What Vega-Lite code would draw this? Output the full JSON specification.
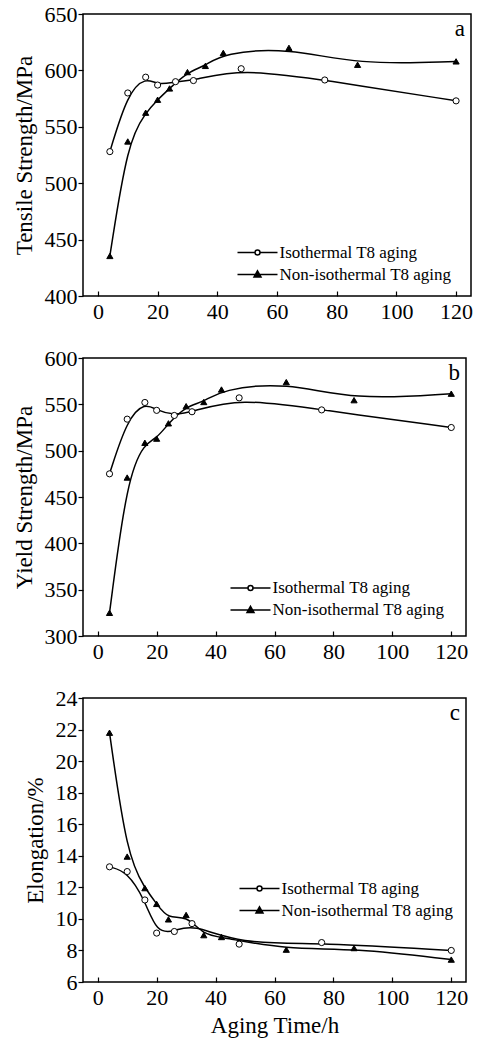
{
  "$schema": "https://vega.github.io/schema/vega-lite/v6.json",
  "padding": {"left": 12, "top": 2, "right": 0, "bottom": 0},
  "spacing": 23,
  "resolve": {"scale": {"shape": "independent", "fill": "independent"}, "legend": {"shape": "independent", "fill": "independent"}},
  "config": {
    "font": "Liberation Serif",
    "view": {"stroke": "black", "strokeWidth": 1.5},
    "axis": {"grid": false, "domain": false, "labelFont": "Liberation Serif", "titleFont": "Liberation Serif", "labelFontSize": 22, "titleFontSize": 23, "titleFontWeight": "normal", "labelColor": "black", "titleColor": "black", "tickColor": "black", "tickWidth": 1.2},
    "axisY": {"tickSize": 5, "labelPadding": 1, "titlePadding": 8},
    "axisX": {"tickSize": -5, "labelPadding": 10, "titlePadding": 6},
    "legend": {"labelFont": "Liberation Serif", "labelFontSize": 17, "labelColor": "black", "labelLimit": 400, "symbolSize": 100, "labelOffset": 13.5, "rowPadding": 4, "padding": 0, "symbolStrokeColor": "black", "symbolStrokeWidth": 1.5, "symbolOpacity": 1},
    "point": {"size": 38},
    "title": {"font": "Liberation Serif", "fontSize": 23, "fontWeight": "normal", "color": "black", "anchor": "end", "frame": "group", "orient": "top", "offset": -38, "baseline": "alphabetic", "dx": -6}
  },
  "datasets": {
    "a": [
      {"s": "Isothermal T8 aging", "t": 4, "v": 528},
      {"s": "Isothermal T8 aging", "t": 10, "v": 580},
      {"s": "Isothermal T8 aging", "t": 16, "v": 594},
      {"s": "Isothermal T8 aging", "t": 20, "v": 587},
      {"s": "Isothermal T8 aging", "t": 26, "v": 590},
      {"s": "Isothermal T8 aging", "t": 32, "v": 591},
      {"s": "Isothermal T8 aging", "t": 48, "v": 601.5},
      {"s": "Isothermal T8 aging", "t": 76, "v": 591.5},
      {"s": "Isothermal T8 aging", "t": 120, "v": 573},
      {"s": "Non-isothermal T8 aging", "t": 4, "v": 435.5},
      {"s": "Non-isothermal T8 aging", "t": 10, "v": 537},
      {"s": "Non-isothermal T8 aging", "t": 16, "v": 562.5},
      {"s": "Non-isothermal T8 aging", "t": 20, "v": 574},
      {"s": "Non-isothermal T8 aging", "t": 24, "v": 584},
      {"s": "Non-isothermal T8 aging", "t": 30, "v": 598.5},
      {"s": "Non-isothermal T8 aging", "t": 36, "v": 604},
      {"s": "Non-isothermal T8 aging", "t": 42, "v": 615.5},
      {"s": "Non-isothermal T8 aging", "t": 64, "v": 620},
      {"s": "Non-isothermal T8 aging", "t": 87, "v": 605},
      {"s": "Non-isothermal T8 aging", "t": 120, "v": 608}
    ],
    "b": [
      {"s": "Isothermal T8 aging", "t": 4, "v": 475},
      {"s": "Isothermal T8 aging", "t": 10, "v": 534},
      {"s": "Isothermal T8 aging", "t": 16, "v": 552},
      {"s": "Isothermal T8 aging", "t": 20, "v": 543.5},
      {"s": "Isothermal T8 aging", "t": 26, "v": 538},
      {"s": "Isothermal T8 aging", "t": 32, "v": 542},
      {"s": "Isothermal T8 aging", "t": 48, "v": 557},
      {"s": "Isothermal T8 aging", "t": 76, "v": 544},
      {"s": "Isothermal T8 aging", "t": 120, "v": 525},
      {"s": "Non-isothermal  T8 aging", "t": 4, "v": 325},
      {"s": "Non-isothermal  T8 aging", "t": 10, "v": 471},
      {"s": "Non-isothermal  T8 aging", "t": 16, "v": 508.5},
      {"s": "Non-isothermal  T8 aging", "t": 20, "v": 513},
      {"s": "Non-isothermal  T8 aging", "t": 24, "v": 529.5},
      {"s": "Non-isothermal  T8 aging", "t": 30, "v": 548},
      {"s": "Non-isothermal  T8 aging", "t": 36, "v": 552.5},
      {"s": "Non-isothermal  T8 aging", "t": 42, "v": 566},
      {"s": "Non-isothermal  T8 aging", "t": 64, "v": 574},
      {"s": "Non-isothermal  T8 aging", "t": 87, "v": 554.5},
      {"s": "Non-isothermal  T8 aging", "t": 120, "v": 561.5}
    ],
    "c": [
      {"s": "Isothermal T8 aging", "t": 4, "v": 13.3},
      {"s": "Isothermal T8 aging", "t": 10, "v": 13.0},
      {"s": "Isothermal T8 aging", "t": 16, "v": 11.2},
      {"s": "Isothermal T8 aging", "t": 20, "v": 9.1},
      {"s": "Isothermal T8 aging", "t": 26, "v": 9.2},
      {"s": "Isothermal T8 aging", "t": 32, "v": 9.7},
      {"s": "Isothermal T8 aging", "t": 48, "v": 8.4},
      {"s": "Isothermal T8 aging", "t": 76, "v": 8.5},
      {"s": "Isothermal T8 aging", "t": 120, "v": 8.0},
      {"s": "Non-isothermal T8 aging", "t": 4, "v": 21.8},
      {"s": "Non-isothermal T8 aging", "t": 10, "v": 13.95},
      {"s": "Non-isothermal T8 aging", "t": 16, "v": 11.95},
      {"s": "Non-isothermal T8 aging", "t": 20, "v": 10.95},
      {"s": "Non-isothermal T8 aging", "t": 24, "v": 9.97},
      {"s": "Non-isothermal T8 aging", "t": 30, "v": 10.25},
      {"s": "Non-isothermal T8 aging", "t": 36, "v": 8.97},
      {"s": "Non-isothermal T8 aging", "t": 42, "v": 8.85},
      {"s": "Non-isothermal T8 aging", "t": 64, "v": 8.05},
      {"s": "Non-isothermal T8 aging", "t": 87, "v": 8.15},
      {"s": "Non-isothermal T8 aging", "t": 120, "v": 7.42}
    ]
  },
  "vconcat": [
    {
      "width": 388, "height": 282,
      "data": {"name": "a"},
      "title": {"text": "a"},
      "resolve": {"scale": {"shape": "independent"}, "legend": {"shape": "independent"}},
      "encoding": {
        "x": {"field": "t", "type": "quantitative", "scale": {"domain": [-5, 125]}, "axis": {"values": [0, 20, 40, 60, 80, 100, 120], "title": null}},
        "y": {"field": "v", "type": "quantitative", "scale": {"domain": [400, 650]}, "axis": {"values": [400, 450, 500, 550, 600, 650], "title": "Tensile Strength/MPa"}}
      },
      "layer": [
        {"mark": {"type": "line", "interpolate": "basis", "color": "black", "strokeWidth": 1.5}, "encoding": {"detail": {"field": "s"}}},
        {"mark": {"type": "point", "filled": true, "stroke": "black", "strokeWidth": 1, "opacity": 1},
         "encoding": {
           "shape": {"field": "s", "type": "nominal", "scale": {"domain": ["Isothermal T8 aging", "Non-isothermal T8 aging"], "range": ["circle", "triangle-up"]}, "legend": null},
           "fill": {"field": "s", "type": "nominal", "scale": {"domain": ["Isothermal T8 aging", "Non-isothermal T8 aging"], "range": ["white", "black"]}, "legend": null}
         }},
        {"transform": [{"filter": "datum.t < 0"}],
         "mark": {"type": "point", "filled": false, "color": "black", "stroke": "black", "strokeWidth": 1.5, "size": 100, "opacity": 1},
         "encoding": {
           "shape": {"field": "s", "type": "nominal", "scale": {"domain": ["Isothermal T8 aging", "Non-isothermal T8 aging"], "range": ["M-4,0H-0.5M0.5,0H4M-0.5,0A0.5,0.5,0,1,1,0.5,0A0.5,0.5,0,1,1,-0.5,0", "M-4,0H4M0,-0.75L0.7,0.5L-0.7,0.5ZM0,-0.4L0.35,0.3L-0.35,0.3ZM0,-0.6V0.5"]},
             "legend": {"title": null, "orient": "none", "legendX": 166, "legendY": 230, "labelFont": "Liberation Serif"}}
         }}
      ]
    },
    {
      "width": 383, "height": 278,
      "data": {"name": "b"},
      "title": {"text": "b"},
      "resolve": {"scale": {"shape": "independent"}, "legend": {"shape": "independent"}},
      "encoding": {
        "x": {"field": "t", "type": "quantitative", "scale": {"domain": [-5, 125]}, "axis": {"values": [0, 20, 40, 60, 80, 100, 120], "title": null}},
        "y": {"field": "v", "type": "quantitative", "scale": {"domain": [300, 600]}, "axis": {"values": [300, 350, 400, 450, 500, 550, 600], "title": "Yield Strength/MPa"}}
      },
      "layer": [
        {"mark": {"type": "line", "interpolate": "basis", "color": "black", "strokeWidth": 1.5}, "encoding": {"detail": {"field": "s"}}},
        {"mark": {"type": "point", "filled": true, "stroke": "black", "strokeWidth": 1, "opacity": 1},
         "encoding": {
           "shape": {"field": "s", "type": "nominal", "scale": {"domain": ["Isothermal T8 aging", "Non-isothermal  T8 aging"], "range": ["circle", "triangle-up"]}, "legend": null},
           "fill": {"field": "s", "type": "nominal", "scale": {"domain": ["Isothermal T8 aging", "Non-isothermal  T8 aging"], "range": ["white", "black"]}, "legend": null}
         }},
        {"transform": [{"filter": "datum.t < 0"}],
         "mark": {"type": "point", "filled": false, "color": "black", "stroke": "black", "strokeWidth": 1.5, "size": 100, "opacity": 1},
         "encoding": {
           "shape": {"field": "s", "type": "nominal", "scale": {"domain": ["Isothermal T8 aging", "Non-isothermal  T8 aging"], "range": ["M-4,0H-0.5M0.5,0H4M-0.5,0A0.5,0.5,0,1,1,0.5,0A0.5,0.5,0,1,1,-0.5,0", "M-4,0H4M0,-0.75L0.7,0.5L-0.7,0.5ZM0,-0.4L0.35,0.3L-0.35,0.3ZM0,-0.6V0.5"]},
             "legend": {"title": null, "orient": "none", "legendX": 159, "legendY": 221.5, "labelFont": "Liberation Serif"}}
         }}
      ]
    },
    {
      "width": 383, "height": 284,
      "data": {"name": "c"},
      "title": {"text": "c"},
      "resolve": {"scale": {"shape": "independent"}, "legend": {"shape": "independent"}},
      "encoding": {
        "x": {"field": "t", "type": "quantitative", "scale": {"domain": [-5, 125]}, "axis": {"values": [0, 20, 40, 60, 80, 100, 120], "title": "Aging Time/h"}},
        "y": {"field": "v", "type": "quantitative", "scale": {"domain": [6, 24]}, "axis": {"values": [6, 8, 10, 12, 14, 16, 18, 20, 22, 24], "title": "Elongation/%"}}
      },
      "layer": [
        {"mark": {"type": "line", "interpolate": "basis", "color": "black", "strokeWidth": 1.5}, "encoding": {"detail": {"field": "s"}}},
        {"mark": {"type": "point", "filled": true, "stroke": "black", "strokeWidth": 1, "opacity": 1},
         "encoding": {
           "shape": {"field": "s", "type": "nominal", "scale": {"domain": ["Isothermal T8 aging", "Non-isothermal T8 aging"], "range": ["circle", "triangle-up"]}, "legend": null},
           "fill": {"field": "s", "type": "nominal", "scale": {"domain": ["Isothermal T8 aging", "Non-isothermal T8 aging"], "range": ["white", "black"]}, "legend": null}
         }},
        {"transform": [{"filter": "datum.t < 0"}],
         "mark": {"type": "point", "filled": false, "color": "black", "stroke": "black", "strokeWidth": 1.5, "size": 100, "opacity": 1},
         "encoding": {
           "shape": {"field": "s", "type": "nominal", "scale": {"domain": ["Isothermal T8 aging", "Non-isothermal T8 aging"], "range": ["M-4,0H-0.5M0.5,0H4M-0.5,0A0.5,0.5,0,1,1,0.5,0A0.5,0.5,0,1,1,-0.5,0", "M-4,0H4M0,-0.75L0.7,0.5L-0.7,0.5ZM0,-0.4L0.35,0.3L-0.35,0.3ZM0,-0.6V0.5"]},
             "legend": {"title": null, "orient": "none", "legendX": 168, "legendY": 182, "labelFont": "Liberation Serif"}}
         }}
      ]
    }
  ]
}
